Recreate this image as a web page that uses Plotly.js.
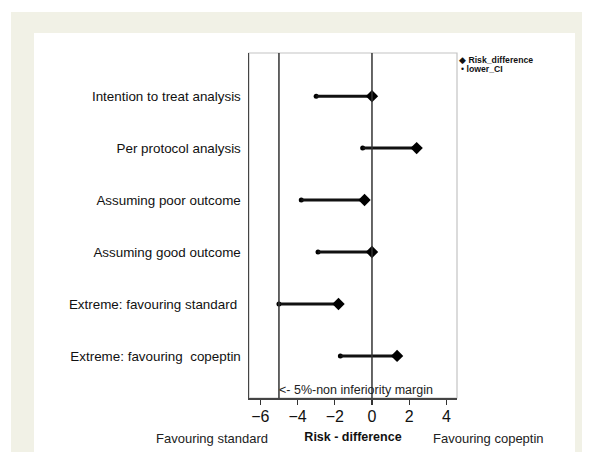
<!DOCTYPE html>
<html>
<head>
<meta charset="utf-8">
<script src="https://cdn.plot.ly/plotly-3.0.1.min.js"></script>
<style>html,body{margin:0;padding:0;background:#fff;}#chart{width:592px;height:452px;}</style>
</head>
<body>
<div id="chart"></div>
<script>
// ---- data ----
const analyses = [
  "Intention to treat analysis",
  "Per protocol analysis",
  "Assuming poor outcome",
  "Assuming good outcome",
  "Extreme: favouring standard ",
  "Extreme: favouring  copeptin"
];
const riskDifference = [0, 2.4, -0.4, 0, -1.8, 1.35];
const lowerCI = [-3.0, -0.5, -3.8, -2.9, -5.0, -1.7];
const nonInferiorityMargin = -5;
const xTicks = [-6, -4, -2, 0, 2, 4];

// ---- layout geometry ----
const W = 592, H = 452;
const L = 249, R = 457, T = 53, B = 398;
const px = x => (x - L) / (R - L);
const py = y => 1 - (y - T) / (B - T);
const FONT = "Liberation Sans, Arial, sans-serif";

const traces = [
  {
    type: "scatter", mode: "markers", name: "lower_CI",
    x: lowerCI, y: analyses,
    marker: {symbol: "circle", size: 5, color: "#000"},
    showlegend: false, hoverinfo: "x+y"
  },
  {
    type: "scatter", mode: "markers", name: "Risk_difference",
    x: riskDifference, y: analyses,
    error_x: {
      type: "data", symmetric: false,
      array: riskDifference.map(() => 0),
      arrayminus: riskDifference.map((v, i) => v - lowerCI[i]),
      thickness: 3, width: 0, color: "#111"
    },
    marker: {symbol: "diamond", size: 9.5, color: "#000"},
    showlegend: false, hoverinfo: "x+y"
  }
];

const layout = {
  width: W, height: H,
  margin: {l: L, r: W - R, t: T, b: H - B, pad: 0},
  paper_bgcolor: "#ffffff",
  plot_bgcolor: "rgba(0,0,0,0)",
  font: {family: FONT, color: "#000"},
  showlegend: false,
  xaxis: {
    range: [-6.61, 4.57],
    tickvals: xTicks,
    ticktext: xTicks.map(v => v < 0 ? "\u2212" + Math.abs(v) : String(v)),
    ticks: "outside", ticklen: 5, tickwidth: 1.2, tickcolor: "#333",
    tickfont: {family: FONT, size: 16, color: "#111"},
    ticklabelstandoff: -2,
    showline: true, linecolor: "#444", linewidth: 1.5,
    showgrid: false, zeroline: false,
    title: {text: "<b>Risk - difference</b>", font: {family: FONT, size: 12.5, color: "#111"}, standoff: 8}
  },
  yaxis: {
    type: "category",
    categoryorder: "array", categoryarray: analyses,
    range: [5.81, -0.83],
    ticks: "", showline: true, linecolor: "#444", linewidth: 1.5,
    tickfont: {family: FONT, size: 13.4, color: "#111"},
    showgrid: false, zeroline: false, ticklabelstandoff: 4
  },
  shapes: [
    {type: "rect", xref: "paper", yref: "paper", layer: "below",
     x0: px(11), x1: px(582), y0: py(455), y1: py(12),
     fillcolor: "#f1f1e6", line: {width: 0}},
    {type: "rect", xref: "paper", yref: "paper", layer: "below",
     x0: px(34), x1: px(575), y0: py(455), y1: py(33),
     fillcolor: "#ffffff", line: {width: 0}},
    {type: "rect", xref: "paper", yref: "paper", layer: "below",
     x0: 0, x1: 1, y0: 0, y1: 1,
     fillcolor: "rgba(0,0,0,0)", line: {color: "#c4c4c4", width: 1.2}},
    {type: "line", xref: "x", yref: "paper", x0: nonInferiorityMargin, x1: nonInferiorityMargin, y0: 0, y1: 1,
     line: {color: "#333", width: 1.5}},
    {type: "line", xref: "x", yref: "paper", x0: 0, x1: 0, y0: 0, y1: 1,
     line: {color: "#333", width: 1.5}}
  ],
  annotations: [
    {xref: "x", yref: "paper", x: nonInferiorityMargin, y: py(390), xanchor: "left", yanchor: "middle",
     xshift: -2, text: "&lt;- 5%-non inferiority margin", showarrow: false,
     font: {family: FONT, size: 12.5, color: "#222"}},
    {xref: "paper", yref: "paper", x: px(212), y: py(438), xanchor: "center", yanchor: "middle",
     text: "Favouring standard", showarrow: false, font: {family: FONT, size: 13, color: "#222"}},
    {xref: "paper", yref: "paper", x: px(488), y: py(438), xanchor: "center", yanchor: "middle",
     text: "Favouring copeptin", showarrow: false, font: {family: FONT, size: 13, color: "#222"}},
    {xref: "paper", yref: "paper", x: px(457), y: py(60), xanchor: "left", yanchor: "middle",
     text: "\u25C6 <b>Risk_difference</b>", showarrow: false, font: {family: FONT, size: 8.7, color: "#111"}},
    {xref: "paper", yref: "paper", x: px(459), y: py(69), xanchor: "left", yanchor: "middle",
     text: "\u2022 <b>lower_CI</b>", showarrow: false, font: {family: FONT, size: 8.7, color: "#111"}}
  ]
};

Plotly.newPlot("chart", traces, layout, {displayModeBar: false, staticPlot: true});
</script>
</body>
</html>
